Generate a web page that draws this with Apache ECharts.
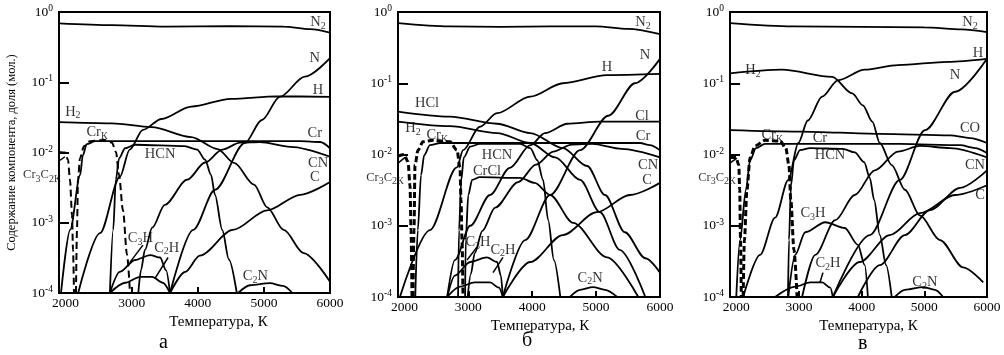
<!DOCTYPE html>
<html>
<head>
<meta charset="utf-8">
<script src="https://cdn.jsdelivr.net/npm/echarts@6/dist/echarts.min.js"></script>
<style>
  html, body { margin: 0; padding: 0; background: #fff; }
  #chart { width: 1004px; height: 355px; }
</style>
</head>
<body>
<div id="chart"></div>
<script>
// Equilibrium composition of the gas phase vs temperature (mole fraction, log scale)

// ---------- panel а ----------
const a_N2  = [[1900,0.69],[2700,0.65],[3500,0.62],[4500,0.63],[5300,0.62],[5700,0.57],[6000,0.51]];
const a_H2  = [[1900,0.027],[2700,0.026],[3300,0.023],[3900,0.0166],[4300,0.0112],[4550,0.0071],[4850,0.0035],[5050,0.00166],[5300,0.00079],[5600,0.00037],[6000,0.000145]];
const a_H   = [[2190,1e-4],[2520,7.1e-4],[2820,4.5e-3],[2970,0.011],[3170,0.021],[3450,0.030],[3900,0.045],[4500,0.058],[5200,0.063],[6000,0.062]];
const a_N   = [[3580,1e-4],[3930,7.9e-4],[4260,2.95e-3],[4710,0.0136],[4970,0.029],[5240,0.062],[5620,0.12],[6000,0.22]];
const a_Cr  = [[1930,1e-4],[2070,8e-4],[2220,4.8e-3],[2260,9.1e-3],[2320,0.0132],[2450,0.0145],[4000,0.0145],[5550,0.0145],[5850,0.0141],[6000,0.0115]];
const a_HCN = [[2670,1e-4],[2720,7.9e-4],[2760,4.1e-3],[2810,8.3e-3],[2900,0.0115],[3050,0.0129],[3800,0.0123],[3990,0.011],[4110,0.0079],[4200,0.0048],[4260,0.0025],[4370,7.9e-4],[4470,3.0e-4],[4590,1e-4]];
const a_CN  = [[3100,1e-4],[3140,2.1e-4],[3200,4.1e-4],[3310,8.5e-4],[3500,1.8e-3],[3840,4.1e-3],[4110,7.2e-3],[4370,0.011],[4640,0.0138],[4940,0.0141],[5400,0.012],[6000,0.0087]];
const a_C   = [[3580,1e-4],[3810,2e-4],[4030,3.4e-4],[4530,7.9e-4],[5050,1.5e-3],[5550,2.5e-3],[6000,3.8e-3]];
const a_C3H = [[2670,1e-4],[2820,2e-4],[3050,2.95e-4],[3280,3.47e-4],[3430,3.2e-4],[3520,2.1e-4],[3580,1e-4]];
const a_C2H = [[2670,1e-4],[2900,1.4e-4],[3130,1.7e-4],[3310,1.7e-4],[3470,1.4e-4],[3580,1e-4]];
const a_C2N = [[4610,1e-4],[4790,1.29e-4],[5090,1.38e-4],[5290,1.26e-4],[5430,1e-4]];
// condensed phases (dashed)
const a_CrK    = [[2157,1e-4],[2172,7.9e-4],[2187,4.1e-3],[2218,8.3e-3],[2278,0.0123],[2369,0.0145],[2596,0.0151],[2702,0.0138],[2762,0.0102],[2808,0.0048],[2868,0.0015],[2929,3.5e-4],[2974,1e-4]];
const a_Cr3C2K = [[1900,0.0102],[1990,0.010],[2036,0.0079],[2066,0.0041],[2097,0.0013],[2112,4.1e-4],[2127,1e-4]];

// ---------- panel б ----------
const b_N2   = [[1900,0.70],[2700,0.63],[3500,0.62],[4300,0.63],[5000,0.63],[5500,0.58],[6000,0.49]];
const b_HCl  = [[1900,0.040],[2710,0.034],[3450,0.027],[3970,0.020],[4480,0.0123],[4860,6.9e-3],[5140,2.7e-3],[5450,8.1e-4],[5770,3.5e-4],[6000,2.2e-4]];
const b_H2   = [[1900,0.029],[2710,0.025],[3450,0.020],[3970,0.0145],[4360,9.1e-3],[4750,4.4e-3],[5060,1.55e-3],[5370,4.6e-4],[5770,1e-4]];
const b_H    = [[1930,1e-4],[2400,8.7e-4],[2820,6.6e-3],[2920,0.0115],[3180,0.0245],[3450,0.038],[3970,0.065],[4480,0.10],[5170,0.13],[6000,0.135]];
const b_N    = [[3540,1e-4],[3890,6.3e-4],[4280,2.7e-3],[4750,0.0115],[5190,0.035],[5610,0.10],[6000,0.22]];
const b_Cl   = [[2670,1e-4],[2790,3.3e-4],[3030,1.0e-3],[3340,2.7e-3],[3650,6.5e-3],[3970,0.0135],[4200,0.020],[4550,0.027],[5060,0.029],[6000,0.029]];
const b_Cr   = [[2170,1e-4],[2210,8.7e-4],[2260,5.1e-3],[2310,9.8e-3],[2400,0.0135],[2560,0.0145],[5690,0.0145],[5840,0.0135],[6000,0.0115]];
const b_HCN  = [[2840,1e-4],[2855,8.7e-4],[2890,4.4e-3],[2930,9.1e-3],[3030,0.0129],[3180,0.0141],[3810,0.0141],[3970,0.0123],[4080,8.3e-3],[4170,4.4e-3],[4250,1.2e-3],[4340,3.3e-4],[4440,1e-4]];
const b_CrCl = [[2950,1e-4],[2960,6.3e-4],[3000,2.7e-3],[3060,4.4e-3],[3180,4.8e-3],[3810,4.7e-3],[4040,4.0e-3],[4280,2.7e-3],[4640,1.1e-3],[5170,3.6e-4],[5660,1e-4]];
const b_CN   = [[2990,1e-4],[3040,2.1e-4],[3100,4.1e-4],[3220,8.5e-4],[3420,1.8e-3],[3780,4.1e-3],[4060,7.2e-3],[4330,0.011],[4620,0.0138],[4940,0.0141],[5400,0.012],[6000,0.0091]];
const b_C    = [[3540,1e-4],[3970,3.1e-4],[4480,7.4e-4],[5010,1.55e-3],[5530,2.7e-3],[6000,4.0e-3]];
const b_C3H  = [[2670,1e-4],[2790,2.0e-4],[3030,3.1e-4],[3290,3.6e-4],[3450,3.1e-4],[3510,2.0e-4],[3540,1e-4]];
const b_C2H  = [[2670,1e-4],[2870,1.4e-4],[3100,1.6e-4],[3340,1.6e-4],[3480,1.35e-4],[3540,1e-4]];
const b_C2N  = [[4590,1e-4],[4750,1.26e-4],[4950,1.38e-4],[5140,1.26e-4],[5330,1e-4]];
const b_CrK    = [[2135,1e-4],[2150,8.7e-4],[2166,7.1e-3],[2213,0.0115],[2291,0.0151],[2448,0.0158],[2714,0.0151],[2823,0.0115],[2870,6.6e-3],[2886,2.3e-3],[2902,6.3e-4],[2917,1e-4]];
const b_Cr3C2K = [[1900,9.5e-3],[1994,0.010],[2057,7.9e-3],[2088,3.7e-3],[2104,8.7e-4],[2119,1e-4]];

// ---------- panel в ----------
const c_N2   = [[1900,0.70],[2900,0.63],[4000,0.62],[5000,0.61],[5600,0.57],[6000,0.52]];
const c_H2   = [[1900,0.138],[2730,0.155],[3530,0.123],[3850,0.072],[4020,0.049],[4170,0.029],[4290,0.0145],[4480,7.1e-3],[4690,3.2e-3],[4930,1.4e-3],[5250,6.3e-4],[5620,2.6e-4],[5940,1.6e-4]];
const c_H    = [[2110,1e-4],[2380,3.9e-4],[2620,1.3e-3],[2830,4.4e-3],[2990,0.0145],[3140,0.030],[3370,0.065],[3620,0.11],[4050,0.155],[4580,0.18],[5380,0.20],[6000,0.22]];
const c_N    = [[3540,1e-4],[4130,7.4e-4],[4610,4.4e-3],[5010,0.022],[5490,0.076],[6000,0.22]];
const c_CO   = [[1900,0.022],[3020,0.021],[4290,0.0195],[5410,0.0186],[5730,0.017],[6000,0.0145]];
const c_Cr   = [[2000,1e-4],[2060,6.3e-4],[2155,3.2e-3],[2220,8.3e-3],[2315,0.0123],[2460,0.0141],[4610,0.0141],[5570,0.0135],[5810,0.0123],[6000,0.0105]];
const c_HCN  = [[2825,1e-4],[2841,6.3e-4],[2873,3.7e-3],[2921,8.3e-3],[3017,0.0115],[3176,0.0123],[3700,0.012],[3890,0.0107],[4040,7.8e-3],[4130,4.7e-3],[4200,2.3e-3],[4290,7.4e-4],[4390,2.8e-4],[4480,1e-4]];
const c_CN   = [[3050,1e-4],[3260,3.9e-4],[3580,1.2e-3],[3890,2.7e-3],[4210,6.0e-3],[4580,0.011],[4930,0.0132],[5410,0.0123],[6000,9.1e-3]];
const c_C    = [[3540,1e-4],[3970,3.1e-4],[4450,7.4e-4],[4930,1.5e-3],[5490,2.7e-3],[6000,3.7e-3]];
const c_C2   = [[3940,1e-4],[4290,2.8e-4],[4690,7.4e-4],[5090,1.66e-3],[5570,3.4e-3],[6000,6.0e-3]]; // second carbon curve (unlabelled)
const c_C3H  = [[2830,1e-4],[2940,3.9e-4],[3100,8.1e-4],[3420,1.12e-3],[3730,9.3e-4],[3940,5.4e-4],[4050,2.8e-4],[4100,1e-4]];
const c_C2H  = [[2620,1e-4],[2940,1.4e-4],[3180,1.6e-4],[3370,1.6e-4],[3500,1.35e-4],[3540,1e-4]];
const c_C2N  = [[4530,1e-4],[4690,1.26e-4],[4980,1.38e-4],[5170,1.26e-4],[5300,1e-4]];
const c_CrK    = [[2110,1e-4],[2130,6.3e-4],[2170,3.2e-3],[2220,8.9e-3],[2300,0.0132],[2460,0.0158],[2700,0.0155],[2790,0.0123],[2840,7.1e-3],[2870,2.3e-3],[2920,4.6e-4],[2970,1e-4]];
const c_Cr3C2K = [[1900,9.1e-3],[1996,9.1e-3],[2040,7.1e-3],[2055,3.2e-3],[2068,6.3e-4],[2080,1e-4]];

// axis ticks
const xLabelValues = [2000, 3000, 4000, 5000, 6000];
const xTickValues  = [3000, 4000, 5000];

// species names: [key, T, mole fraction] where each name sits
const labelsA = [['N2',5820,0.72],['N',5770,0.22],['H',5820,0.078],['H2',2110,0.038],['CrK',2475,0.0195],['Cr',5770,0.019],
  ['HCN',3430,9.5e-3],['CN',5820,7.1e-3],['C',5770,4.4e-3],['Cr3C2K',1640,4.8e-3],['C3H',3130,6.0e-4],['C2H',3530,4.4e-4],['C2N',4870,1.74e-4]];
const labelsB = [['N2',5734,0.72],['N',5766,0.25],['H',5171,0.17],['HCl',2354,0.052],['Cl',5719,0.035],['H2',2135,0.0234],['CrK',2510,0.0186],
  ['Cr',5734,0.0178],['HCN',3449,9.8e-3],['CrCl',3293,5.9e-3],['CN',5813,7.1e-3],['C',5797,4.3e-3],['Cr3C2K',1697,4.7e-3],
  ['C3H',3152,5.9e-4],['C2H',3543,4.6e-4],['C2N',4905,1.86e-4]];
const labelsC = [['N2',5728,0.72],['H',5856,0.266],['N',5489,0.13],['H2',2267,0.153],['CO',5728,0.0236],['CrK',2570,0.0187],['Cr',3335,0.017],
  ['HCN',3495,9.8e-3],['CN',5808,7.1e-3],['C',5888,2.7e-3],['Cr3C2K',1693,4.7e-3],['C3H',3224,1.5e-3],['C2H',3463,3.0e-4],['C2N',5010,1.62e-4]];

// pointer strokes from a name to its curve
const leadersA = [[[1764,6.2e-3],[1990,8.7e-3]], [[3170,4.8e-4],[2975,2.75e-4]], [[3550,3.2e-4],[3350,1.6e-4]]];
const leadersB = [[[1665,5.1e-3],[2010,9.1e-3]], [[3136,5.0e-4],[2980,3.3e-4]], [[3543,3.6e-4],[3387,2.2e-4]]];
const leadersC = [[[1740,6.0e-3],[2010,8.9e-3]], [[3383,2.2e-4],[3335,1.6e-4]]];

const FONT = '"Liberation Serif", "Times New Roman", serif';

const FORMULA = {
  N2: '{t|N}{d|2}', N: '{t|N}', H: '{t|H}', H2: '{t|H}{d|2}', CrK: '{t|Cr}{d|К}', Cr: '{t|Cr}',
  HCN: '{t|HCN}', CN: '{t|CN}', C: '{t|C}', Cr3C2K: '{s|Cr}{d|3}{s|C}{d|2К}', C3H: '{t|C}{d|3}{t|H}',
  C2H: '{t|C}{d|2}{t|H}', C2N: '{t|C}{d|2}{t|N}', HCl: '{t|HCl}', Cl: '{t|Cl}', CrCl: '{t|CrCl}', CO: '{t|CO}'
};
const RICH = {
  t: { fontFamily: FONT, fontSize: 14.5, lineHeight: 18, color: '#000' },
  s: { fontFamily: FONT, fontSize: 12.5, lineHeight: 18, color: '#000' },
  d: { fontFamily: FONT, fontSize: 10, lineHeight: 11, color: '#000', verticalAlign: 'bottom' }
};

const panels = [
  { box: { left: 59, top: 12, width: 271, height: 281 },
    curves: [a_N2, a_H2, a_H, a_N, a_Cr, a_HCN, a_CN, a_C, a_C3H, a_C2H, a_C2N],
    dashed: [a_CrK, a_Cr3C2K], dashWidth: 2, dashType: [7, 4],
    labels: labelsA, leaders: leadersA, letter: 'а', letterPos: [165, 345], titleShift: 24,
    yName: 'Содержание компонента, доля (мол.)' },
  { box: { left: 398, top: 12, width: 262, height: 285 },
    curves: [b_N2, b_HCl, b_H2, b_H, b_N, b_Cl, b_Cr, b_HCN, b_CrCl, b_CN, b_C, b_C3H, b_C2H, b_C2N],
    dashed: [b_CrK, b_Cr3C2K], dashWidth: 3, dashType: [6, 3],
    labels: labelsB, leaders: leadersB, letter: 'б', letterPos: [528, 343], titleShift: 11, yName: '' },
  { box: { left: 730, top: 12, width: 257, height: 285 },
    curves: [c_N2, c_H2, c_H, c_N, c_CO, c_Cr, c_HCN, c_CN, c_C, c_C2, c_C3H, c_C2H, c_C2N],
    dashed: [c_CrK, c_Cr3C2K], dashWidth: 3, dashType: [6, 3],
    labels: labelsC, leaders: leadersC, letter: 'в', letterPos: [864, 346], titleShift: 10, yName: '' }
];

const grid = [], xAxis = [], yAxis = [], series = [], graphic = [];

panels.forEach((p, i) => {
  grid.push(Object.assign({ show: true, borderColor: '#000', borderWidth: 2, backgroundColor: 'transparent' }, p.box));

  xAxis.push({
    type: 'value', gridIndex: i, min: 1900, max: 6000,
    name: 'Температура, К', nameLocation: 'middle', nameGap: i === 0 ? 17 : 13,
    nameTextStyle: { fontFamily: FONT, fontSize: 15, color: '#000', padding: [0, 0, 0, 2 * p.titleShift] },
    axisLine: { show: true, lineStyle: { color: '#000', width: 2 } },
    axisTick: { show: true, inside: true, length: 6, customValues: xTickValues, lineStyle: { color: '#000', width: 2 } },
    axisLabel: { customValues: xLabelValues, formatter: v => String(v), fontFamily: FONT, fontSize: 13.5, color: '#000', margin: 3 },
    splitLine: { show: false }
  });

  yAxis.push({
    type: 'log', logBase: 10, gridIndex: i, min: 1e-4, max: 1,
    name: p.yName, nameLocation: 'middle', nameGap: 41, nameRotate: 90,
    nameTextStyle: { fontFamily: FONT, fontSize: 12.5, color: '#000' },
    axisLine: { show: true, lineStyle: { color: '#000', width: 2 } },
    axisTick: { show: true, inside: true, length: 10, lineStyle: { color: '#000', width: 2 } },
    axisLabel: {
      fontFamily: FONT, color: '#000', margin: 6,
      formatter: v => '{b|10}{p|' + Math.round(Math.log10(v)) + '}',
      rich: {
        b: { fontFamily: FONT, fontSize: 13.5, lineHeight: 17, color: '#000' },
        p: { fontFamily: FONT, fontSize: 9.5, lineHeight: 10, color: '#000', verticalAlign: 'top' }
      }
    },
    splitLine: { show: false }
  });

  p.curves.forEach(d => series.push({
    type: 'line', xAxisIndex: i, yAxisIndex: i, data: d, showSymbol: false, symbol: 'none',
    smooth: 0.3, smoothMonotone: 'x', clip: true, silent: true, z: 2,
    lineStyle: { color: '#000', width: 1.8 }
  }));

  p.dashed.forEach(d => series.push({
    type: 'line', xAxisIndex: i, yAxisIndex: i, data: d, showSymbol: false, symbol: 'none',
    smooth: 0.3, smoothMonotone: 'x', clip: true, silent: true, z: 3,
    lineStyle: { color: '#000', width: p.dashWidth, type: p.dashType }
  }));

  p.leaders.forEach(d => series.push({
    type: 'line', xAxisIndex: i, yAxisIndex: i, data: d, showSymbol: false, symbol: 'none',
    clip: false, silent: true, z: 3, lineStyle: { color: '#000', width: 1.5 }
  }));

  series.push({
    type: 'scatter', xAxisIndex: i, yAxisIndex: i, clip: false, silent: true, z: 5,
    symbolSize: 1, itemStyle: { color: 'rgba(0,0,0,0)' },
    data: p.labels.map(l => ({ name: l[0], value: [l[1], l[2]] })),
    label: { show: true, position: 'inside', formatter: q => FORMULA[q.name], rich: RICH }
  });

  graphic.push({
    type: 'text', left: p.letterPos[0] - 6, top: p.letterPos[1] - 12,
    style: { text: p.letter, font: '20px ' + FONT, fill: '#000' }
  });
});

const chart = echarts.init(document.getElementById('chart'), null, { renderer: 'canvas' });
chart.setOption({
  animation: false,
  backgroundColor: '#fff',
  grid, xAxis, yAxis, series, graphic
});
</script>
</body>
</html>
